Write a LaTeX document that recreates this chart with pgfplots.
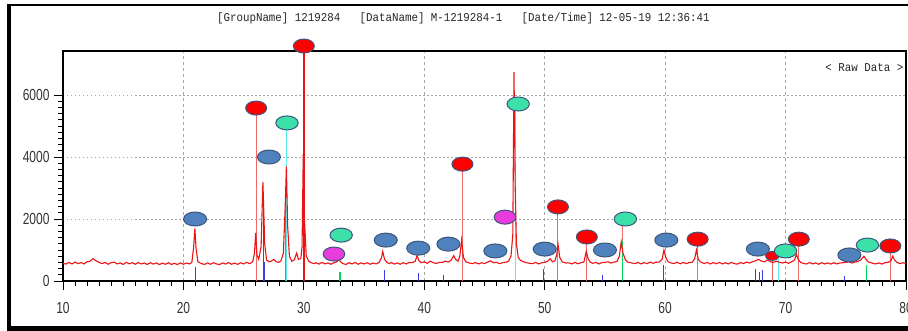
\documentclass[border=0pt]{standalone}
\usepackage{pgfplots}
\pgfplotsset{compat=1.18}
\usepackage{fontspec}
\setmainfont{Liberation Sans}
\newfontfamily\tickfont[FakeStretch=0.75]{Liberation Sans}
\newfontfamily\titlefont[FakeStretch=0.9]{Liberation Mono}
\definecolor{ebl}{RGB}{79,129,189}
\definecolor{ered}{RGB}{255,0,0}
\definecolor{emint}{RGB}{60,225,170}
\definecolor{emag}{RGB}{232,60,220}
\definecolor{eout}{RGB}{60,85,125}
\definecolor{lred}{RGB}{240,105,105}
\definecolor{trace}{RGB}{235,20,20}
\definecolor{sblue}{RGB}{60,60,230}
\definecolor{sgreen}{RGB}{0,215,90}
\definecolor{scyan}{RGB}{90,235,235}
\definecolor{spurp}{RGB}{120,50,160}
\begin{document}
\begin{tikzpicture}
\useasboundingbox (-63pt,-50pt) rectangle (845pt,281pt);
\fill[white] (-63pt,-50pt) rectangle (845pt,281pt);
\begin{axis}[
  at={(0,0)}, anchor=south west,
  scale only axis, width=843pt, height=230pt,
  xmin=10, xmax=80, ymin=0, ymax=7420,
  clip=false,
  axis line style={line width=1.6pt, black},
  xtick={10,20,...,80}, ytick={0,2000,4000,6000},
  minor x tick num=9, minor y tick num=9,
  xtick pos=bottom, ytick pos=left,
  tick align=outside,
  major tick length=9pt, minor tick length=5pt,
  every tick/.style={black, line width=0.8pt},
  xmajorgrids, ymajorgrids,
  x grid style={gray!70, dash pattern=on 3pt off 3pt, line width=0.8pt},
  y grid style={gray!70, dash pattern=on 1.5pt off 2.5pt, line width=1pt},
  ticklabel style={font=\tickfont\fontsize{16}{16}\selectfont, text=black!80},
  /pgf/number format/assume math mode=true,
  /pgf/number format/1000 sep={},
  xticklabel style={yshift=-9pt},
  yticklabel style={xshift=-1pt},
]
% reference sticks
\addplot[ycomb, lred, line width=1pt, mark=none] coordinates {
 (26.04,5580) (43.17,3770) (51.1,2390) (53.5,1420) (56.5,2000)
 (62.7,1350) (68.9,810) (71.1,1350) (78.7,1130)};
\addplot[ycomb, trace, line width=1.4pt, mark=none] coordinates {(30.0,7580)};
\addplot[ycomb, scyan, line width=1pt, mark=none] coordinates {
 (28.6,5100) (47.6,5710) (69.4,700)};
\addplot[ycomb, spurp, line width=1.2pt, mark=none] coordinates {(26.62,2500)};
\addplot[ycomb, sgreen, line width=1.2pt, mark=none] coordinates {
 (28.45,2400) (33.0,300) (56.45,1300) (76.7,500)};
\addplot[ycomb, sblue, line width=0.9pt, mark=none] coordinates {
 (21.0,450) (26.75,600) (36.7,350) (39.5,250) (41.6,200) (49.9,400) (54.8,200)
 (59.9,500) (67.5,400) (67.8,300) (68.1,350) (74.9,150)};
% raw data trace
\addplot[trace, line width=1.1pt, mark=none] coordinates {
(10.00,575) (10.25,545) (10.50,600) (10.75,550) (11.00,610) (11.25,560) (11.50,595) (11.75,550)
(12.00,620) (12.25,640) (12.50,720) (12.75,650) (13.00,600) (13.25,560) (13.50,600) (13.75,540)
(14.00,590) (14.25,610) (14.50,550) (14.75,585) (15.00,535) (15.25,600) (15.50,555) (15.75,590)
(16.00,540) (16.25,595) (16.50,550) (16.75,580) (17.00,535) (17.25,590) (17.50,545) (17.75,585)
(18.00,530) (18.25,575) (18.50,540) (18.75,590) (19.00,535) (19.25,570) (19.50,530) (19.75,585)
(20.00,540) (20.25,580) (20.50,550) (20.70,600) (20.85,1100) (20.95,1700) (21.05,1050) (21.20,620)
(21.50,560) (21.75,535) (22.00,585) (22.25,540) (22.50,590) (22.75,550) (23.00,530) (23.25,585)
(23.50,545) (23.75,595) (24.00,540) (24.25,580) (24.50,535) (24.75,590) (25.00,550) (25.25,600)
(25.50,560) (25.75,620) (25.90,900) (26.00,1550) (26.10,850) (26.25,700) (26.45,1100) (26.60,3200)
(26.75,1200) (26.90,680) (27.10,620) (27.30,640) (27.50,700) (27.70,620) (27.90,600) (28.10,650)
(28.30,900) (28.45,2400) (28.55,3700) (28.65,1800) (28.80,800) (29.00,640) (29.20,680) (29.40,900)
(29.55,700) (29.75,720) (29.85,1100) (29.95,4100) (30.05,2000) (30.20,800) (30.40,640) (30.60,590)
(30.85,560) (31.00,590) (31.25,545) (31.50,600) (31.75,550) (32.00,585) (32.25,540) (32.50,590)
(32.75,620) (32.90,700) (33.05,620) (33.25,560) (33.50,535) (33.75,590) (34.00,550) (34.25,600)
(34.50,540) (34.75,585) (35.00,550) (35.25,590) (35.50,540) (35.75,580) (36.00,550) (36.25,600)
(36.45,760) (36.55,950) (36.70,700) (36.90,600) (37.10,560) (37.25,595) (37.50,545) (37.75,585)
(38.00,540) (38.25,590) (38.50,550) (38.75,600) (39.00,590) (39.25,640) (39.40,820) (39.55,660)
(39.75,590) (40.00,620) (40.25,570) (40.50,640) (40.75,590) (41.00,565) (41.25,600) (41.50,600)
(41.75,640) (42.00,610) (42.25,680) (42.45,820) (42.60,700) (42.80,640) (42.95,800) (43.10,1320)
(43.25,760) (43.45,620) (43.75,580) (44.00,560) (44.25,595) (44.50,550) (44.75,590) (45.00,560)
(45.25,610) (45.50,650) (45.75,590) (46.00,600) (46.25,560) (46.50,590) (46.75,600) (47.00,640)
(47.20,800) (47.35,1500) (47.45,6740) (47.55,3000) (47.65,1200) (47.80,760) (48.00,660) (48.25,620)
(48.50,590) (48.75,570) (49.00,560) (49.25,600) (49.50,550) (49.75,590) (50.00,600) (50.25,640)
(50.45,720) (50.65,620) (50.85,650) (51.00,850) (51.10,1200) (51.25,760) (51.45,620) (51.75,580)
(52.00,585) (52.25,550) (52.50,600) (52.75,555) (53.00,590) (53.25,610) (53.45,960) (53.60,720)
(53.80,600) (54.00,570) (54.25,600) (54.50,550) (54.75,595) (55.00,600) (55.25,620) (55.50,580)
(55.75,610) (56.00,630) (56.20,800) (56.35,1260) (56.50,900) (56.70,680) (56.90,610) (57.25,580)
(57.50,560) (57.75,600) (58.00,550) (58.25,595) (58.50,560) (58.75,610) (59.00,570) (59.25,605)
(59.50,610) (59.75,700) (59.90,1000) (60.05,760) (60.25,620) (60.50,580) (60.75,565) (61.00,605)
(61.25,555) (61.50,600) (61.75,560) (62.00,595) (62.25,600) (62.45,720) (62.60,1000) (62.75,700)
(63.00,600) (63.25,565) (63.50,600) (63.75,550) (64.00,595) (64.25,555) (64.50,600) (64.75,550)
(65.00,590) (65.25,550) (65.50,600) (65.75,560) (66.00,545) (66.25,595) (66.50,560) (66.75,610)
(67.00,580) (67.25,620) (67.50,650) (67.75,700) (68.00,640) (68.25,620) (68.50,680) (68.75,620)
(69.00,600) (69.25,640) (69.50,600) (69.75,580) (70.00,610) (70.25,570) (70.50,620) (70.75,680)
(70.90,860) (71.05,700) (71.25,600) (71.50,565) (71.75,550) (72.00,595) (72.25,550) (72.50,585)
(72.75,540) (73.00,590) (73.25,550) (73.50,585) (73.75,545) (74.00,590) (74.25,550) (74.50,580)
(74.75,590) (75.00,600) (75.25,620) (75.50,580) (75.75,610) (76.00,630) (76.25,680) (76.50,800)
(76.65,720) (76.85,620) (77.00,600) (77.25,570) (77.50,550) (77.75,585) (78.00,545) (78.25,590)
(78.50,600) (78.75,650) (78.90,800) (79.05,680) (79.25,600) (79.50,560) (79.75,590) (80.00,560)
};
% phase markers (ellipses)
\addplot[only marks, mark=*, mark size=7pt,
  mark options={xscale=1.65, fill=ebl, draw=eout, line width=1pt}] coordinates {
 (20.97,2000) (27.1,4000) (36.8,1320) (39.5,1060) (42.0,1190) (45.9,970)
 (50.0,1030) (55.0,1000) (60.1,1320) (67.7,1030) (75.3,840)};
\addplot[only marks, mark=*, mark size=7pt,
  mark options={xscale=1.5, fill=ered, draw=eout, line width=1pt}] coordinates {
 (26.04,5580) (30.0,7580) (43.17,3770) (51.1,2390) (53.5,1420) (62.7,1350)
 (71.1,1350) (78.7,1130)};
\addplot[only marks, mark=*, mark size=4.5pt,
  mark options={xscale=1.5, fill=ered, draw=eout, line width=0.8pt}] coordinates {
 (68.9,810)};
\addplot[only marks, mark=*, mark size=7pt,
  mark options={xscale=1.6, fill=emint, draw=eout, line width=1pt}] coordinates {
 (28.6,5100) (33.1,1480) (47.8,5710) (56.7,2000) (70.0,970) (76.8,1160)};
\addplot[only marks, mark=*, mark size=7pt,
  mark options={xscale=1.55, fill=emag, draw=eout, line width=1pt}] coordinates {
 (32.5,870) (46.7,2060)};
\node[font=\titlefont\fontsize{12}{12}\selectfont, text=black!85]
  at (rel axis cs:0.475,1.143) {[GroupName] 1219284\ \ \ [DataName] M-1219284-1\ \ \ [Date/Time] 12-05-19 12:36:41};
\node[font=\titlefont\fontsize{12}{12}\selectfont, text=black!85, anchor=east, inner sep=0pt]
  at (rel axis cs:0.997,0.930) {< Raw Data >};
\end{axis}
\draw[black, line width=4pt] (-54pt,-50pt) -- (-54pt,277pt);
\draw[black, line width=2.5pt] (-56pt,276pt) -- (850pt,276pt);
\fill[black] (-56pt,-50pt) rectangle (850pt,-45pt);
\end{tikzpicture}
\end{document}
